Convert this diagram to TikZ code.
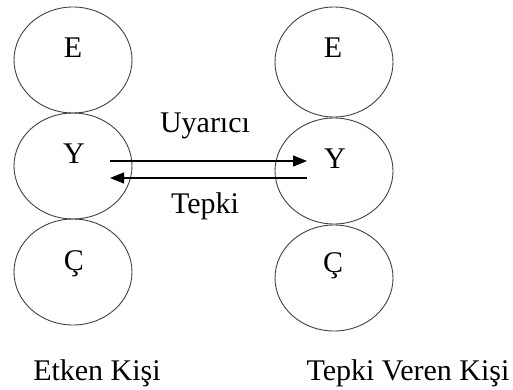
\documentclass[tikz,border=0pt]{standalone}
\usepackage{fontspec}
\setmainfont{Liberation Serif}
\usetikzlibrary{shapes.geometric,arrows.meta}
\begin{document}
\begin{tikzpicture}[x=1pt,y=-1pt,
  oval/.style={draw=black!75,line width=0.9pt,ellipse,inner sep=0pt,minimum width=118pt,minimum height=106pt},
  lbl/.style={anchor=base,inner sep=0pt,font=\fontsize{30}{35}\selectfont},
  arr/.style={line width=1.2pt,-{Triangle[length=14pt,width=11pt]}}]
\useasboundingbox (0,0) rectangle (513,390);
% left person
\node[oval] (le) at (73,60) {};
\node[oval] (ly) at (73,166) {};
\node[oval] (lc) at (73,272) {};
% right person
\node[oval,minimum height=110pt] (re) at (334,62) {};
\node[oval] (ry) at (334,171) {};
\node[oval] (rc) at (334,278) {};
% letters
\node[lbl] (teL) at (73,58) {E};
\node[lbl] (tyL) at (74,164) {Y};
\node[lbl] (tcL) at (74,270) {Ç};
\node[lbl] (teR) at (333,58) {E};
\node[lbl] (tyR) at (335,168) {Y};
\node[lbl] (tcR) at (333,272) {Ç};
% arrows
\coordinate (a1) at (110,161);
\coordinate (a2) at (307,161);
\coordinate (b1) at (307,178);
\coordinate (b2) at (110,178);
\draw[arr] (a1) -- (a2);
\draw[arr] (b1) -- (b2);
\node[lbl] (uy) at (205,132) {Uyarıcı};
\node[lbl] (tp) at (205,213) {Tepki};
% captions
\node[lbl] (etken) at (97,380) {Etken Kişi};
\node[lbl] (tepki) at (408,380) {Tepki Veren Kişi};
\end{tikzpicture}
\end{document}
